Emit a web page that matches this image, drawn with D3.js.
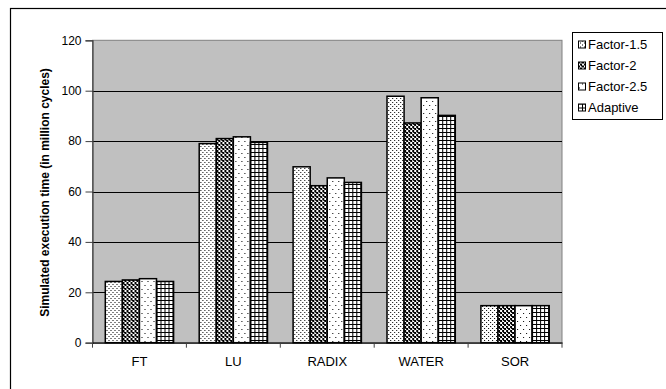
<!DOCTYPE html>
<html>
<head>
<meta charset="utf-8">
<script src="https://cdn.jsdelivr.net/npm/d3@7"></script>
<style>
  html, body { margin: 0; padding: 0; background: #fff; }
  svg { display: block; font-family: "Liberation Sans", Arial, sans-serif; }
</style>
</head>
<body>
<svg id="chart" width="666" height="389"></svg>
<script>
// Benchmarks and simulated execution time (million cycles) per policy
const categories = ["FT", "LU", "RADIX", "WATER", "SOR"];
const seriesNames = ["Factor-1.5", "Factor-2", "Factor-2.5", "Adaptive"];
const factor15 = [24.3, 79.0, 69.8, 97.8, 14.7];
const factor2  = [24.9, 81.0, 62.3, 87.2, 14.7];
const factor25 = [25.4, 81.7, 65.4, 97.2, 14.7];
const adaptive = [24.3, 79.5, 63.6, 90.2, 14.7];
const yTicks = [0, 20, 40, 60, 80, 100, 120];
const seriesValues = [factor15, factor2, factor25, adaptive];

const FONT = "'Liberation Sans', Arial, sans-serif";
const svg = d3.select("#chart");
const defs = svg.append("defs");

// Fill patterns for each series
function pattern(id, w, h, bg, rects) {
  const p = defs.append("pattern").attr("id", id)
    .attr("patternUnits", "userSpaceOnUse").attr("width", w).attr("height", h);
  p.append("rect").attr("width", w).attr("height", h).attr("fill", bg);
  rects.forEach(r => p.append("rect").attr("x", r[0]).attr("y", r[1])
    .attr("width", r[2]).attr("height", r[3]).attr("fill", "#000"));
}
pattern("p0", 4, 4, "#fff", [[0, 0, 1, 1], [2, 2, 1, 1]]);
pattern("p1", 4, 4, "#fff", [[0, 0, 2, 2], [2, 2, 2, 2], [3, 0, 1, 1]]);
pattern("p2", 6, 8, "#fff", [[1, 1, 1, 1], [4, 5, 1, 1]]);
pattern("p3", 4, 4, "#fff", [[0, 0, 4, 1], [0, 0, 1, 4]]);
const fills = ["url(#p0)", "url(#p1)", "url(#p2)", "url(#p3)"];

// Outer chart frame
svg.append("rect").attr("x", 10.5).attr("y", 8.5).attr("width", 700).attr("height", 420)
  .attr("fill", "#fff").attr("stroke", "#000").attr("stroke-width", 1.2);

const plot = { left: 92.5, right: 562, top: 40.3, bottom: 342.7 };

const x = d3.scaleBand().domain(categories).range([plot.left, plot.right]).padding(0);
const step = x.bandwidth();
const barW = step / 5.5;
const xs = d3.scaleBand().domain(seriesNames)
  .range([barW * 0.75, step - barW * 0.75]).padding(0);
const y = d3.scaleLinear().domain([0, 120]).range([plot.bottom, plot.top]);

// Plot background
svg.append("rect").attr("x", plot.left).attr("y", plot.top)
  .attr("width", plot.right - plot.left).attr("height", plot.bottom - plot.top)
  .attr("fill", "#c0c0c0").attr("stroke", "#808080").attr("stroke-width", 1);

// Gridlines
svg.append("g").selectAll("line").data(yTicks.filter(d => d > 0 && d < 120)).join("line")
  .attr("x1", plot.left).attr("x2", plot.right)
  .attr("y1", d => Math.round(y(d)) + 0.5).attr("y2", d => Math.round(y(d)) + 0.5)
  .attr("stroke", "#000").attr("stroke-width", 1);

// Bars
const groups = svg.append("g").selectAll("g").data(categories).join("g")
  .attr("transform", d => `translate(${x(d)},0)`);
groups.selectAll("rect")
  .data((c, i) => seriesNames.map((s, j) => ({ s, j, v: seriesValues[j][i] })))
  .join("rect")
  .attr("x", d => xs(d.s))
  .attr("y", d => y(d.v))
  .attr("width", xs.bandwidth())
  .attr("height", d => y(0) - y(d.v))
  .attr("fill", d => fills[d.j])
  .attr("stroke", "#000").attr("stroke-width", 1.5);

// Y axis
const yAxis = svg.append("g").attr("transform", `translate(${plot.left},0)`)
  .call(d3.axisLeft(y).tickValues(yTicks).tickSize(7).tickPadding(4).tickFormat(d3.format("d")));
yAxis.select(".domain").attr("stroke", "#404040").attr("stroke-width", 1.2);
yAxis.selectAll(".tick line").attr("stroke", "#404040");
yAxis.selectAll("text").attr("font-size", 12).attr("fill", "#000").attr("font-family", FONT);

// X axis
const xAxis = svg.append("g").attr("transform", `translate(0,${plot.bottom})`)
  .call(d3.axisBottom(x).tickSize(0).tickPadding(14));
xAxis.select(".domain").attr("stroke", "#000").attr("stroke-width", 1.2);
xAxis.selectAll("text").attr("font-size", 13).attr("fill", "#000").attr("font-family", FONT);
// Category separator ticks
svg.append("g").selectAll("line")
  .data(categories.map(c => x(c)).concat([plot.right]))
  .join("line")
  .attr("x1", d => d).attr("x2", d => d)
  .attr("y1", plot.bottom).attr("y2", plot.bottom + 5)
  .attr("stroke", "#404040");

// Y axis title
svg.append("text")
  .attr("transform", `translate(49,${(plot.top + plot.bottom) / 2 + 1}) rotate(-90)`)
  .attr("text-anchor", "middle")
  .attr("font-family", FONT)
  .attr("font-size", 12).attr("font-weight", "bold")
  .text("Simulated execution time (in million cycles)");

// Legend
const lg = svg.append("g").attr("transform", "translate(572,32)");
lg.append("rect").attr("x", 0.5).attr("y", 0.5).attr("width", 90).attr("height", 87)
  .attr("fill", "#fff").attr("stroke", "#000").attr("stroke-width", 1);
const items = lg.selectAll("g.item").data(seriesNames).join("g").attr("class", "item")
  .attr("transform", (d, i) => `translate(6,${12.5 + i * 21})`);
items.append("rect").attr("x", 0.5).attr("y", -3.5).attr("width", 7).attr("height", 7)
  .attr("fill", (d, i) => fills[i]).attr("stroke", "#000").attr("stroke-width", 1);
items.append("text").attr("x", 10).attr("y", 4.7).attr("font-family", FONT)
  .attr("font-size", 13).text(d => d);
</script>
</body>
</html>
